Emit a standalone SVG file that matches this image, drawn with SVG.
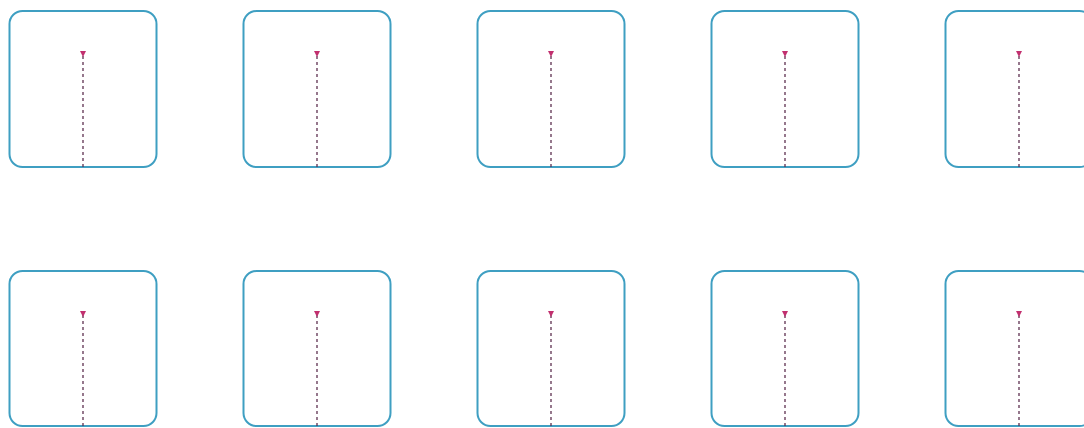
<svg xmlns="http://www.w3.org/2000/svg" width="1084" height="428" viewBox="0 0 1084 428">
<defs>
<style>
.box{fill:#ffffff;stroke:#3f9fc2;stroke-width:2}
.link{stroke:#5e3050;stroke-width:1.3;stroke-dasharray:3 3;fill:none}
.head{fill:#c2306f}
</style>
<marker id="tip" viewBox="0 0 6 6" refX="3" refY="4" markerWidth="6" markerHeight="6" markerUnits="userSpaceOnUse" orient="0">
<path d="M0,0 L6,0 L3,6 Z" class="head"/>
</marker>
</defs>
<rect width="1084" height="428" fill="#ffffff"/>
<g id="n1"><rect class="box" x="9.5" y="11" width="147" height="156" rx="13"/></g>
<g id="n2"><rect class="box" x="243.5" y="11" width="147" height="156" rx="13"/></g>
<g id="n3"><rect class="box" x="477.5" y="11" width="147" height="156" rx="13"/></g>
<g id="n4"><rect class="box" x="711.5" y="11" width="147" height="156" rx="13"/></g>
<g id="n5"><rect class="box" x="945.5" y="11" width="147" height="156" rx="13"/></g>
<g id="n6"><rect class="box" x="9.5" y="271" width="147" height="155" rx="13"/></g>
<g id="n7"><rect class="box" x="243.5" y="271" width="147" height="155" rx="13"/></g>
<g id="n8"><rect class="box" x="477.5" y="271" width="147" height="155" rx="13"/></g>
<g id="n9"><rect class="box" x="711.5" y="271" width="147" height="155" rx="13"/></g>
<g id="n10"><rect class="box" x="945.5" y="271" width="147" height="155" rx="13"/></g>
<g id="connectors">
<path class="link" d="M83,167 V55" marker-end="url(#tip)"/>
<path class="link" d="M317,167 V55" marker-end="url(#tip)"/>
<path class="link" d="M551,167 V55" marker-end="url(#tip)"/>
<path class="link" d="M785,167 V55" marker-end="url(#tip)"/>
<path class="link" d="M1019,167 V55" marker-end="url(#tip)"/>
<path class="link" d="M83,426 V315" marker-end="url(#tip)"/>
<path class="link" d="M317,426 V315" marker-end="url(#tip)"/>
<path class="link" d="M551,426 V315" marker-end="url(#tip)"/>
<path class="link" d="M785,426 V315" marker-end="url(#tip)"/>
<path class="link" d="M1019,426 V315" marker-end="url(#tip)"/>
</g>
</svg>
